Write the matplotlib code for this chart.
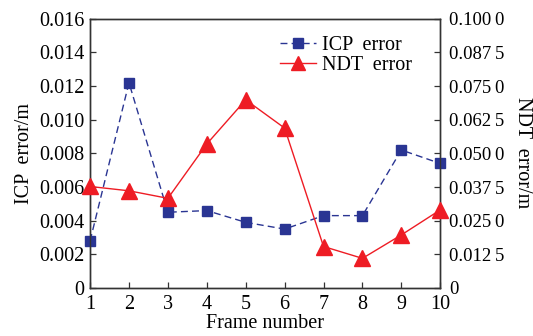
import matplotlib
matplotlib.use("Agg")
import matplotlib.pyplot as plt

frames = [1, 2, 3, 4, 5, 6, 7, 8, 9, 10]
icp_error = [0.0028, 0.0122, 0.0045, 0.0046, 0.0039, 0.0035, 0.0043, 0.0043, 0.0082, 0.0074]
ndt_error = [0.0377, 0.0361, 0.0333, 0.0535, 0.0699, 0.0594, 0.0154, 0.0110, 0.0197, 0.0290]
left_ticks = [0, 0.002, 0.004, 0.006, 0.008, 0.010, 0.012, 0.014, 0.016]
left_labels = ["0", "0.002", "0.004", "0.006", "0.008", "0.010", "0.012", "0.014", "0.016"]
right_ticks = [0, 0.0125, 0.025, 0.0375, 0.05, 0.0625, 0.075, 0.0875, 0.1]
right_labels = ["0", "0.012\u20095", "0.025\u20090", "0.037\u20095", "0.050\u20090",
                "0.062\u20095", "0.075\u20090", "0.087\u20095", "0.100\u20090"]

plt.rcParams['font.family'] = ['Liberation Serif', 'DejaVu Serif']
fs = 14.5
blue = "#2a3593"
red = "#ee1c24"

fig = plt.figure(figsize=(5.33, 3.36), dpi=100)
ax = fig.add_axes([0.169, 0.143, 0.657, 0.801])
ax2 = ax.twinx()

l1, = ax.plot(frames, icp_error, linestyle=(0, (5, 3)), color=blue, lw=1.0,
              marker='s', markersize=7.5, markerfacecolor=blue, markeredgecolor=blue,
              label="ICP  error", clip_on=False, zorder=3)
l2, = ax2.plot(frames, ndt_error, linestyle='-', color=red, lw=1.0,
               marker='^', markersize=11, markerfacecolor=red, markeredgecolor=red,
               label="NDT  error", clip_on=False, zorder=3)

ax.set_xlim(1, 10)
ax.set_ylim(0, 0.016)
ax2.set_ylim(0, 0.1)
ax.set_xticks(frames)
ax.set_xticklabels([str(f) for f in frames], fontsize=fs)
ax.set_yticks(left_ticks)
ax.set_yticklabels(left_labels, fontsize=fs)
ax2.set_yticks(right_ticks)
ax2.set_yticklabels(right_labels, fontsize=13.5)

for a in (ax, ax2):
    a.tick_params(direction='in', length=4, width=0.9, color='#333333', pad=4)
    for s in a.spines.values():
        s.set_linewidth(1.0)
        s.set_color('#333333')
ax2.tick_params(axis='y', pad=6.5)
ax.tick_params(axis='x', top=False, pad=5)

ax.set_xlabel("Frame number", fontsize=fs, labelpad=0)
ax.set_ylabel("ICP  error/m", fontsize=fs, labelpad=4)
fig.text(523 / 533, 1 - 153 / 336, "NDT  error/m", fontsize=fs, rotation=270,
         ha='center', va='center')

ax.legend(handles=[l1, l2], loc='upper right', bbox_to_anchor=(0.96, 0.99), frameon=False,
          fontsize=fs, handlelength=1.8, handletextpad=0.3, borderpad=0.2, labelspacing=0.05,
          markerscale=0.9)

fig.savefig("out.png", dpi=100)
